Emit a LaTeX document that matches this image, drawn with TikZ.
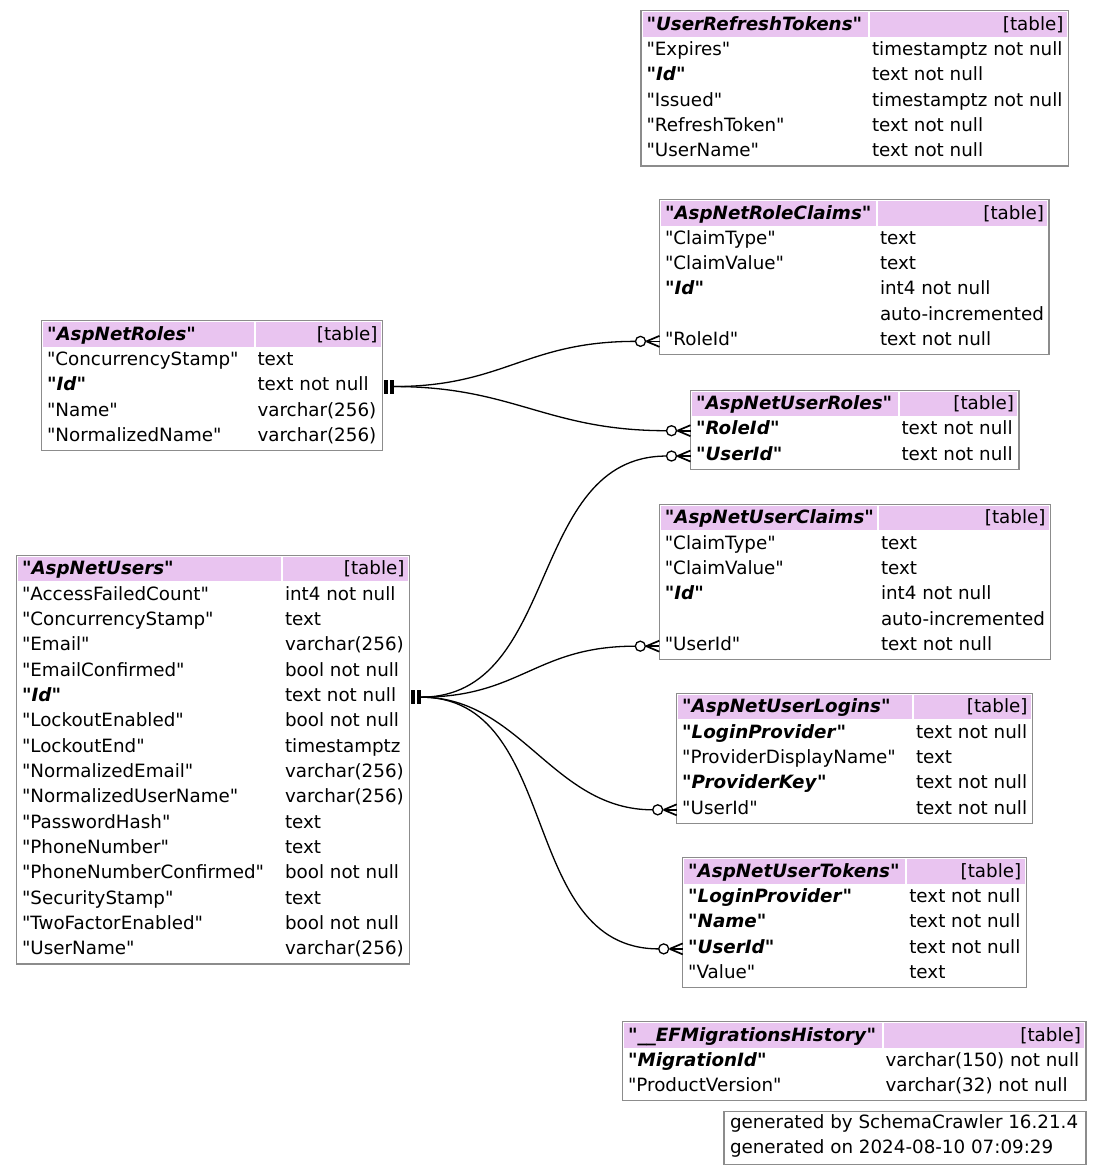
\documentclass[tikz,border=0pt]{standalone}
\usepackage{fontspec}
\setmainfont{DejaVu Sans}[Ligatures=TeXOff,BoldFont={DejaVu Sans Bold},ItalicFont={DejaVu Sans Oblique},BoldItalicFont={DejaVu Sans Bold Oblique}]
\usetikzlibrary{calc}
\definecolor{hdrpink}{RGB}{233,196,240}
\definecolor{bordergray}{RGB}{140,140,140}
\newcommand\kf[1]{{\bfseries"\textit{#1}"}}
\tikzset{
  tblbox/.style={draw=bordergray,line width=1.2pt,inner sep=0pt,outer sep=0pt,anchor=north west,rectangle},
  txt/.style={anchor=base west,inner sep=0pt,outer sep=0pt,font=\fontsize{18.3}{21}\selectfont},
  conn/.style={draw=black,line width=1.3pt},
  crow/.style={draw=black,line width=1.7pt},
}
\newcommand\tbl[7]{%
  \def\Tx{#2}\def\TX{#3}\def\Ty{#4}\def\Tc{#5}\def\Tid{#1}%
  \pgfmathsetmacro\Tw{#3-#2}%
  \pgfmathsetmacro\Tht{28.6+25.34*#6}%
  \node[tblbox,minimum width=\Tw pt,minimum height=\Tht pt] (#1) at (#2,#4) {};
  \fill[hdrpink] (#2+1.6,#4+1.6) rectangle (#5-4,#4+26);
  \fill[hdrpink] (#5-2,#4+1.6) rectangle (#3-1.6,#4+26);
  \node[txt] (#1-title) at (#2+5.5,#4+19.5) {#7};
  \node[txt,anchor=base east] (#1-kind) at (#3-5,#4+19.5) {[table]};
}
\newcommand\trow[3]{%
  \pgfmathsetmacro\Rb{\Ty+44.7+25.34*#1}%
  \node[txt] (\Tid-c#1) at (\Tx+5.5,\Rb) {#2};
  \node[txt] (\Tid-d#1) at (\Tc,\Rb) {#3};
  \coordinate (\Tid-w#1) at (\Tx,\Rb-4.2);
  \coordinate (\Tid-e#1) at (\TX,\Rb-4.2);
}
\newcommand\crowodot[1]{%
  \draw[crow] (#1) ++(-13,0) -- ++(13,-5.5);
  \draw[crow] (#1) ++(-13,0) -- ++(13,0);
  \draw[crow] (#1) ++(-13,0) -- ++(13,5.5);
  \draw[conn,fill=white] (#1) ++(-19,0) circle[radius=5];
}
\newcommand\teetee[1]{%
  \fill (#1) ++(1.5,-7) rectangle ++(3.6,14);
  \fill (#1) ++(7.8,-7) rectangle ++(3.6,14);
}
\begin{document}
\begin{tikzpicture}[x=1pt,y=-1pt]
\useasboundingbox (0,0) rectangle (1103,1175);
\fill[white] (0,0) rectangle (1103,1175);

% UserRefreshTokens
\tbl{urt}{641}{1068.5}{10.7}{872}{5}{\kf{UserRefreshTokens}}
\trow{0}{"Expires"}{timestamptz not null}
\trow{1}{\kf{Id}}{text not null}
\trow{2}{"Issued"}{timestamptz not null}
\trow{3}{"RefreshToken"}{text not null}
\trow{4}{"UserName"}{text not null}

% AspNetRoleClaims
\tbl{rc}{659.5}{1049}{199.5}{880}{5}{\kf{AspNetRoleClaims}}
\trow{0}{"ClaimType"}{text}
\trow{1}{"ClaimValue"}{text}
\trow{2}{\kf{Id}}{int4 not null}
\trow{3}{}{auto-incremented}
\trow{4}{"RoleId"}{text not null}

% AspNetRoles
\tbl{roles}{41.5}{382.5}{320.7}{257.5}{4}{\kf{AspNetRoles}}
\trow{0}{"ConcurrencyStamp"}{text}
\trow{1}{\kf{Id}}{text not null}
\trow{2}{"Name"}{varchar(256)}
\trow{3}{"NormalizedName"}{varchar(256)}

% AspNetUserRoles
\tbl{ur}{690.5}{1019}{390.2}{901.5}{2}{\kf{AspNetUserRoles}}
\trow{0}{\kf{RoleId}}{text not null}
\trow{1}{\kf{UserId}}{text not null}

% AspNetUserClaims
\tbl{uc}{659.3}{1050.5}{504.3}{881}{5}{\kf{AspNetUserClaims}}
\trow{0}{"ClaimType"}{text}
\trow{1}{"ClaimValue"}{text}
\trow{2}{\kf{Id}}{int4 not null}
\trow{3}{}{auto-incremented}
\trow{4}{"UserId"}{text not null}

% AspNetUsers
\tbl{users}{16.5}{409.5}{555.3}{285}{15}{\kf{AspNetUsers}}
\trow{0}{"AccessFailedCount"}{int4 not null}
\trow{1}{"ConcurrencyStamp"}{text}
\trow{2}{"Email"}{varchar(256)}
\trow{3}{"EmailConfirmed"}{bool not null}
\trow{4}{\kf{Id}}{text not null}
\trow{5}{"LockoutEnabled"}{bool not null}
\trow{6}{"LockoutEnd"}{timestamptz}
\trow{7}{"NormalizedEmail"}{varchar(256)}
\trow{8}{"NormalizedUserName"}{varchar(256)}
\trow{9}{"PasswordHash"}{text}
\trow{10}{"PhoneNumber"}{text}
\trow{11}{"PhoneNumberConfirmed"}{bool not null}
\trow{12}{"SecurityStamp"}{text}
\trow{13}{"TwoFactorEnabled"}{bool not null}
\trow{14}{"UserName"}{varchar(256)}

% AspNetUserLogins
\tbl{ul}{676.7}{1032.5}{693.3}{916}{4}{\kf{AspNetUserLogins}}
\trow{0}{\kf{LoginProvider}}{text not null}
\trow{1}{"ProviderDisplayName"}{text}
\trow{2}{\kf{ProviderKey}}{text not null}
\trow{3}{"UserId"}{text not null}

% AspNetUserTokens
\tbl{ut}{682.7}{1026.3}{857.7}{909.3}{4}{\kf{AspNetUserTokens}}
\trow{0}{\kf{LoginProvider}}{text not null}
\trow{1}{\kf{Name}}{text not null}
\trow{2}{\kf{UserId}}{text not null}
\trow{3}{"Value"}{text}

% __EFMigrationsHistory
\tbl{ef}{622.5}{1086}{1021.5}{885.5}{2}{\kf{\_\_EFMigrationsHistory}}
\trow{0}{\kf{MigrationId}}{varchar(150) not null}
\trow{1}{"ProductVersion"}{varchar(32) not null}

% footer
\node[tblbox,minimum width=362pt,minimum height=53.5pt] (footer) at (724,1111.3) {};
\node[txt] (footer-l1) at (730,1128.5) {generated by SchemaCrawler 16.21.4};
\node[txt] (footer-l2) at (730,1153.5) {generated on 2024-08-10 07:09:29};

% connectors
\coordinate (rs) at ($(roles-e1)+(11.4,0)$);
\coordinate (us) at ($(users-e4)+(11.4,0)$);
\coordinate (rcE) at ($(rc-w4)+(-24,0)$);
\coordinate (urR) at ($(ur-w0)+(-24,0)$);
\coordinate (urU) at ($(ur-w1)+(-24,0)$);
\coordinate (ucE) at ($(uc-w4)+(-24,0)$);
\coordinate (ulE) at ($(ul-w3)+(-24,0)$);
\coordinate (utE) at ($(ut-w2)+(-24,0)$);

\draw[conn] (rs) .. controls +(110,0) and +(-110,0) .. (rcE);
\draw[conn] (rs) .. controls +(120,0) and +(-120,0) .. (urR);
\draw[conn] (us) .. controls +(140,0) and +(-140,0) .. (urU);
\draw[conn] (us) .. controls +(100,0) and +(-100,0) .. (ucE);
\draw[conn] (us) .. controls +(100,0) and +(-100,0) .. (ulE);
\draw[conn] (us) .. controls +(142,0) and +(-142,0) .. (utE);

\teetee{roles-e1}
\teetee{users-e4}
\crowodot{rc-w4}
\crowodot{ur-w0}
\crowodot{ur-w1}
\crowodot{uc-w4}
\crowodot{ul-w3}
\crowodot{ut-w2}
\end{tikzpicture}
\end{document}
